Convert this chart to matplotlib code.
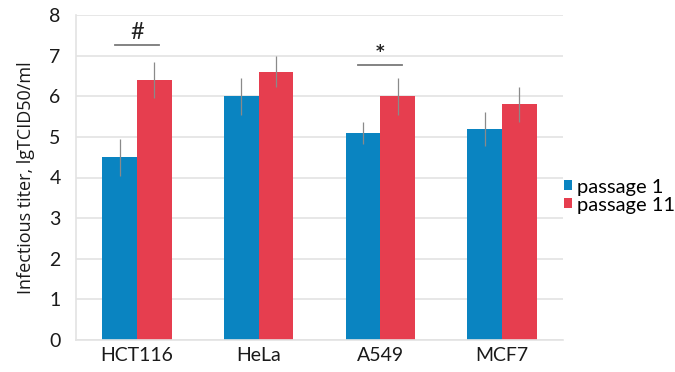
import matplotlib
matplotlib.use("Agg")
import matplotlib.pyplot as plt
import numpy as np

# Infectious titer per cell line, two passages
cell_lines = ["HCT116", "HeLa", "A549", "MCF7"]
passage1 = [4.5, 6.0, 5.1, 5.2]
passage11 = [6.4, 6.6, 6.0, 5.8]
passage1_err = [0.46, 0.45, 0.27, 0.42]
passage11_err = [0.44, 0.38, 0.45, 0.44]
series_labels = ["passage 1", "passage 11"]
y_ticks = [0, 1, 2, 3, 4, 5, 6, 7, 8]

# significance marks: (group index, bar height, text)
marks = [(0, 7.25, "#"), (2, 6.76, "*")]

plt.rcParams["font.family"] = ["Lato", "DejaVu Sans"]

blue = "#0A84C1"
red = "#E63E4F"
grid_c = "#E3E3E3"

fig = plt.figure(figsize=(6.75, 3.72), dpi=100)
ax = fig.add_axes([76 / 675, 1 - 340 / 372, (563 - 76) / 675, (340 - 15) / 372])

x = np.arange(len(cell_lines))
w = 0.285
ax.bar(x - w / 2, passage1, w, color=blue, label=series_labels[0], zorder=2)
ax.bar(x + w / 2, passage11, w, color=red, label=series_labels[1], zorder=2)
ekw = dict(fmt="none", ecolor="#8A8A8A", elinewidth=0.9, capsize=0, zorder=3)
ax.errorbar(x - w / 2, passage1, yerr=passage1_err, **ekw)
ax.errorbar(x + w / 2, passage11, yerr=passage11_err, **ekw)

for gi, h, txt in marks:
    ax.plot([gi - 0.18, gi + 0.18], [h, h], color="#7A7A7A", lw=1.3, zorder=3)
    if txt == "*":
        ax.text(gi, h + 0.12, txt, ha="center", va="bottom", fontsize=12,
                color="#222222", family="DejaVu Sans", fontweight="bold")
    else:
        ax.text(gi, h + 0.06, txt, ha="center", va="bottom", fontsize=17,
                color="#222222")

ax.set_xlim(-0.5, len(cell_lines) - 0.5)
ax.set_ylim(0, 8)
ax.set_yticks(y_ticks)
ax.set_xticks(x)
ax.set_xticklabels(cell_lines)
ax.yaxis.grid(True, color=grid_c, lw=1.2, zorder=0)
ax.set_axisbelow(True)
for s in ["top", "right"]:
    ax.spines[s].set_visible(False)
for s in ["left", "bottom"]:
    ax.spines[s].set_color(grid_c)
    ax.spines[s].set_linewidth(1.2)
ax.tick_params(axis="both", length=0, labelsize=14, colors="#1a1a1a", pad=5)
ax.tick_params(axis="y", pad=11)
ax.set_ylabel("Infectious titer, lgTCID50/ml", fontsize=13, color="#1a1a1a",
              family=["Open Sans", "DejaVu Sans"], labelpad=10)

ax.legend(loc="center left", bbox_to_anchor=(0.985, 0.443), frameon=False,
          fontsize=14.5, handlelength=0.4, handleheight=0.4, handletextpad=0.25,
          labelspacing=0.05, borderaxespad=0)

fig.savefig("out.png", dpi=100)
